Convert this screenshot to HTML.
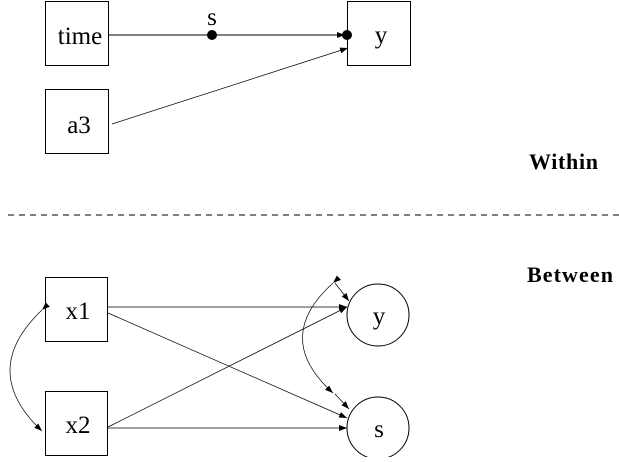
<!DOCTYPE html>
<html><head><style>body{margin:0;background:#fff}</style></head><body>
<svg width="619" height="457" xmlns="http://www.w3.org/2000/svg" font-family="Liberation Serif, serif">
<defs><marker id="a" markerWidth="8" markerHeight="6" refX="8" refY="3" orient="auto" markerUnits="userSpaceOnUse"><path d="M0,0L8,3L0,6z" fill="#000"/></marker></defs>
<g fill="none" stroke="#000" stroke-width="1">
<rect x="45.5" y="1.5" width="63" height="64"/>
<rect x="45.5" y="89.5" width="63" height="64"/>
<rect x="347.5" y="1.5" width="63" height="64"/>
<line x1="109" y1="35" x2="345" y2="35" marker-end="url(#a)"/>
<line x1="112" y1="124" x2="348" y2="48" stroke-width="0.7" marker-end="url(#a)"/>
<line x1="8" y1="215" x2="619" y2="215" stroke-dasharray="6,5"/>
<rect x="45.5" y="277.5" width="62" height="64"/>
<rect x="45.5" y="391.5" width="62" height="64"/>
<circle cx="378" cy="315" r="31"/>
<circle cx="378" cy="428" r="31"/>
<g stroke-width="0.7">
<line x1="108" y1="307" x2="347" y2="307" marker-end="url(#a)"/>
<line x1="108" y1="313" x2="347" y2="418" marker-end="url(#a)"/>
<line x1="108" y1="427" x2="347" y2="307" marker-end="url(#a)"/>
<line x1="108" y1="428" x2="347" y2="428" marker-end="url(#a)"/>
<path d="M42,310 Q-22,371 42,431" marker-start="url(#a)" marker-end="url(#a)"/>
<path d="M333,283 Q272,338 333,393" marker-start="url(#a)" marker-end="url(#a)"/>
<line x1="335" y1="283" x2="349" y2="301" marker-end="url(#a)"/>
<line x1="335" y1="394" x2="349" y2="409" marker-end="url(#a)"/>
</g>
</g>
<circle cx="212" cy="35" r="5"/><circle cx="347" cy="35" r="5"/>
<g font-size="25" text-anchor="middle">
<text x="80" y="44">time</text><text x="79" y="133">a3</text><text x="381" y="43">y</text>
<text x="212" y="25">s</text>
<text x="78" y="319">x1</text><text x="78" y="433">x2</text>
<text x="379" y="324">y</text><text x="379" y="437">s</text>
</g>
<g font-size="22" font-weight="bold">
<text x="529" y="169" textLength="69">Within</text><text x="527" y="282" textLength="86">Between</text>
</g>
</svg>
</body></html>
